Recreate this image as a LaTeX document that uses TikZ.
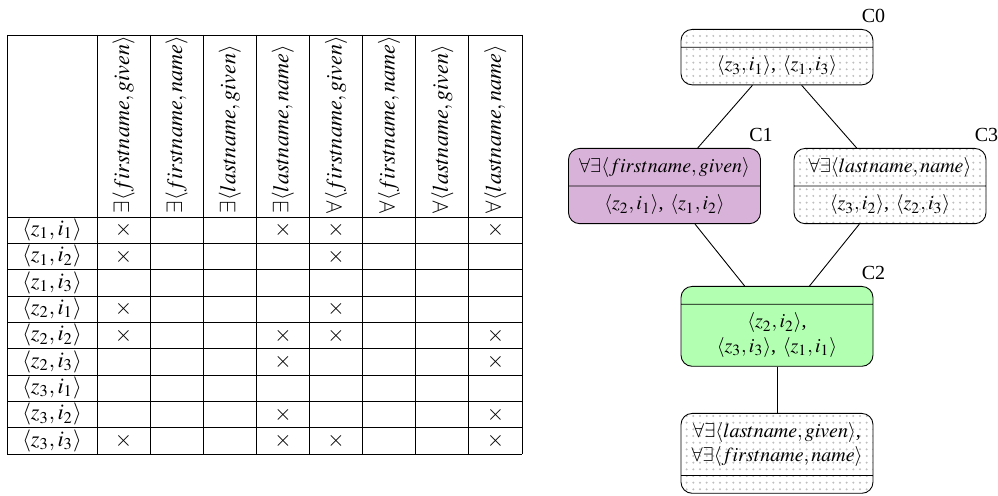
\documentclass[tikz,border=0pt]{standalone}
\usepackage{mathptmx}
\usepackage[no-math]{fontspec}
\setmainfont{Liberation Serif}
\usepackage{xcolor}
\definecolor{conceptviolet}{rgb}{0.85,0.7,0.85}
\definecolor{conceptgreen}{rgb}{0.7,1,0.7}
\usepackage{tikz}
\usetikzlibrary{shapes,patterns,positioning}

\begin{document}
\begin{tikzpicture}[x=0.45pt,y=-0.45pt,
    concept/.style={rectangle split, rectangle split parts=2, draw,
      rounded corners=5pt, font=\small, text width=80.4pt, align=center,
      inner xsep=3pt, inner ysep=3.8pt},
    dotfill/.style={pattern=dots, pattern color=gray!50},
    conceptname/.style={font=\small, inner sep=2.5pt},
    headtext/.style={rotate=90, anchor=west, inner sep=1.5pt}]
    \useasboundingbox (0,0) rectangle (998,496);

    %  frame and grid of the table
    \draw (7,35) -- (522,35);
    \foreach \k in {0,...,9}
      \draw (7,{217+26.33*\k}) -- (522,{217+26.33*\k});
    \draw (7,35) -- (7,454);
    \foreach \c in {0,...,8}
      \draw ({97+53.125*\c},35) -- ({97+53.125*\c},454);

    %  column heads
    \foreach \h [count=\c] in {{\exists\langle firstname,given\rangle},
        {\exists\langle firstname,name\rangle},
        {\exists\langle lastname,given\rangle},
        {\exists\langle lastname,name\rangle},
        {\forall\langle firstname,given\rangle},
        {\forall\langle firstname,name\rangle},
        {\forall\langle lastname,given\rangle},
        {\forall\langle lastname,name\rangle}}
      \node (head\c) [headtext] at ({70.44+53.125*\c},217) {$\h$};

    %  row heads
    \foreach \z/\i [count=\r] in {1/1,1/2,1/3,2/1,2/2,2/3,3/1,3/2,3/3}
      \node (row\r) at (52,{203.83+26.33*\r}) {$\langle z_\z,i_\i\rangle$};

    %  incidences
    \foreach \r/\c in {1/1,1/4,1/5,1/8, 2/1,2/5, 4/1,4/5, 5/1,5/4,5/5,5/8,
        6/4,6/8, 8/4,8/8, 9/1,9/4,9/5,9/8}
      \node (cross\r-\c) at ({70.44+53.125*\c},{203.83+26.33*\r}) {$\times$};

    %  concept lattice
    \node (c0) [concept, dotfill, anchor=north] at (777,29)
      {\nodepart{two}$\langle z_3,i_1\rangle$, $\langle z_1,i_3\rangle$};
    \node (c1) [concept, fill=conceptviolet, anchor=north] at (664.5,148)
      {$\forall\exists\langle firstname,given\rangle$
       \nodepart{two}$\langle z_2,i_1\rangle$, $\langle z_1,i_2\rangle$};
    \node (c3) [concept, dotfill, anchor=north] at (890,148)
      {$\forall\exists\langle lastname,name\rangle$
       \nodepart{two}$\langle z_3,i_2\rangle$, $\langle z_2,i_3\rangle$};
    \node (c2) [concept, fill=conceptgreen, anchor=north] at (777,286)
      {\nodepart{two}$\langle z_2,i_2\rangle$,\\ $\langle z_3,i_3\rangle$, $\langle z_1,i_1\rangle$};
    \node (c4) [concept, dotfill, anchor=north] at (777,413)
      {$\forall\exists\langle lastname,given\rangle$,\\ $\forall\exists\langle firstname,name\rangle$
       \nodepart{two}};

    \node (c0name) [conceptname, above=0pt of c0.north east] {C0};
    \node (c1name) [conceptname, above=0pt of c1.north east] {C1};
    \node (c3name) [conceptname, above=0pt of c3.north east] {C3};
    \node (c2name) [conceptname, above=0pt of c2.north east] {C2};

    \draw (c0) -- (c1);
    \draw (c0) -- (c3);
    \draw (c1) -- (c2);
    \draw (c3) -- (c2);
    \draw (c2) -- (c4);
\end{tikzpicture}
\end{document}
